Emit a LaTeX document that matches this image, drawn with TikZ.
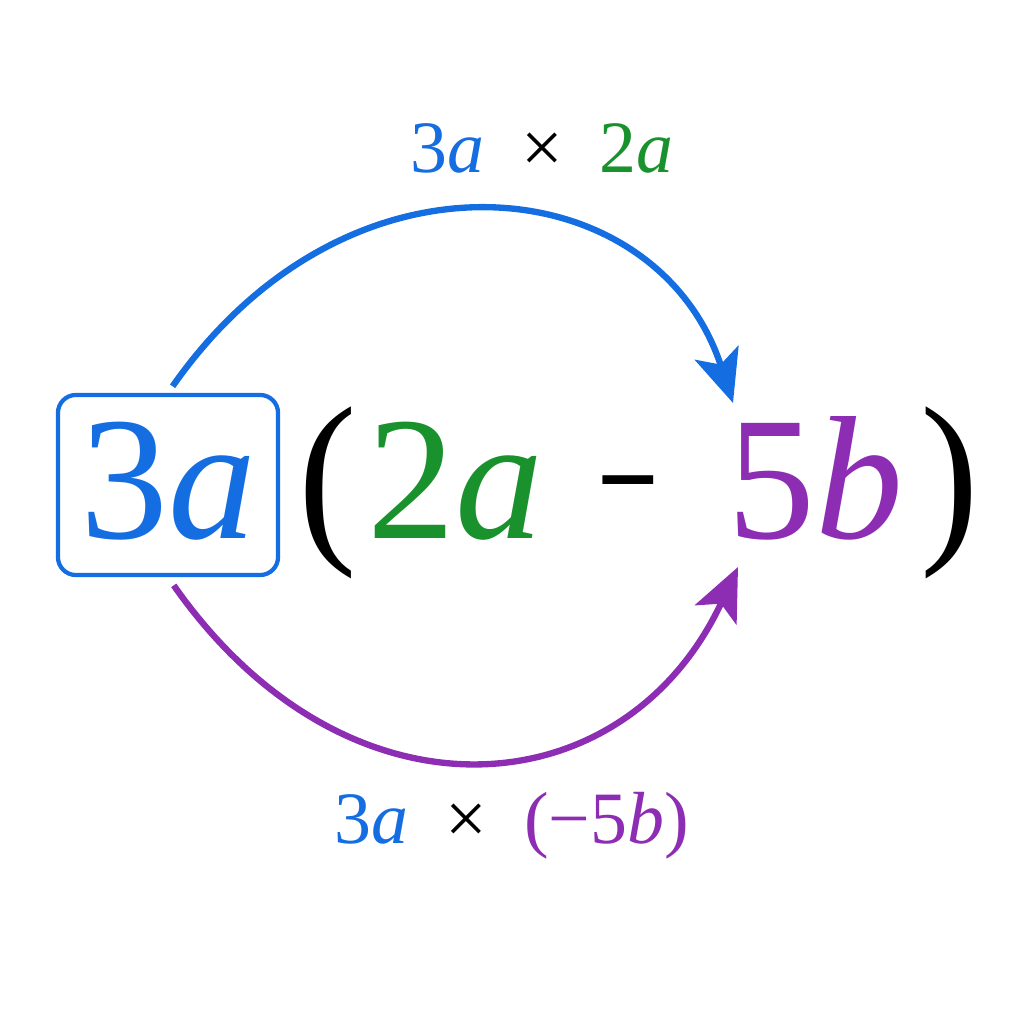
\documentclass[tikz,border=0pt]{standalone}
\usepackage{fontspec}
\usepackage{graphicx}
\setmainfont{Liberation Serif}
\usetikzlibrary{arrows.meta}
\definecolor{termblue}{RGB}{20, 110, 225}
\definecolor{termgreen}{RGB}{25, 145, 45}
\definecolor{termpurple}{RGB}{140, 45, 180}
\tikzset{
  bigterm/.style = {inner sep = 0pt, anchor = base, font = \fontsize{50}{60}\selectfont},
  smallterm/.style = {inner sep = 0pt, anchor = base, font = \fontsize{21}{25}\selectfont},
  mularrow/.style = {line width = 1.8pt, -{Stealth[length = 15pt, width = 13pt, inset = 3.5pt]}}
}

\begin{document}
\begin{tikzpicture}[x = 0.01cm, y = -0.01cm]
\useasboundingbox (0, 0) rectangle (1024, 1024);

\node [draw = termblue, line width = 1.2pt, rounded corners = 0.18cm, text = termblue, minimum width = 2.2cm, minimum height = 1.8cm, inner sep = 0pt, text height = 1.18cm, text depth = 0.12cm, font = \fontsize{50}{60}\selectfont] (threea) at (168, 485) {3\textit{a}};
\node [bigterm] (lparen) at (328, 538) {\scalebox{1}[1.08]{(}};
\node [bigterm, text = termgreen] (twoa) at (455, 538) {2\textit{a}};
\node [bigterm] (minus) at (628, 538) {\scalebox{0.62}[1]{−}};
\node [bigterm, text = termpurple] (fiveb) at (815, 538) {5\textit{b}};
\node [bigterm] (rparen) at (950, 538) {\scalebox{1}[1.08]{)}};

\node [smallterm] (toplabel) at (542, 172) {\textcolor{termblue}{3\textit{a}}\enspace×\enspace\textcolor{termgreen}{2\textit{a}}};
\node [smallterm] (botlabel) at (512, 843) {\textcolor{termblue}{3\textit{a}}\enspace×\enspace\textcolor{termpurple}{(−5\textit{b})}};

\coordinate (toptip) at (733, 403);
\coordinate (bottip) at (738, 567);
\draw [mularrow, termblue, shorten <= 0.08cm] (threea.north) to [out = 55, in = 108, out looseness = 1.45, in looseness = 1.1] (toptip);
\draw [mularrow, termpurple, shorten <= 0.1cm] (threea.south) to [out = -55, in = -115, out looseness = 1.4, in looseness = 1.2] (bottip);

\end{tikzpicture}
\end{document}
